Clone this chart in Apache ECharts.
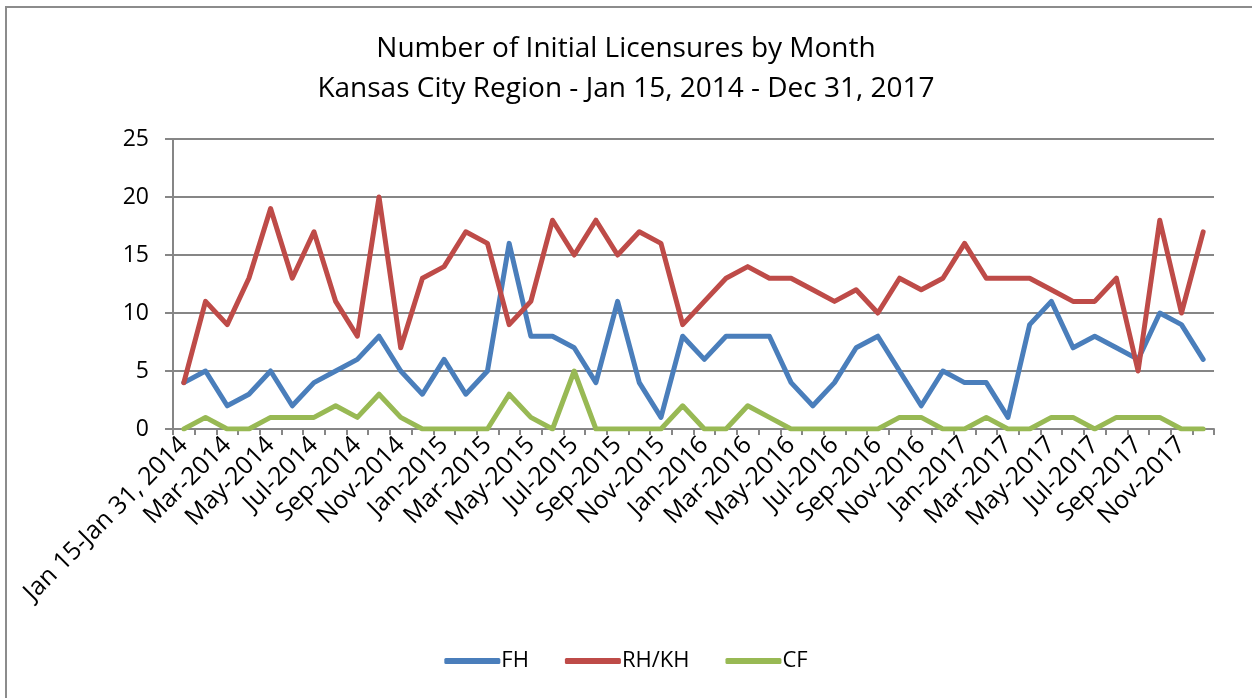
<!DOCTYPE html>
<html><head><meta charset="utf-8">
<script src="https://cdn.jsdelivr.net/npm/echarts@6/dist/echarts.min.js"></script>
<style>html,body{margin:0;padding:0;background:#fff}#c{width:1252px;height:698px}</style>
</head><body><div id="c"></div>
<script>
const categories = ["Jan 15-Jan 31, 2014","Feb-2014","Mar-2014","Apr-2014","May-2014","Jun-2014","Jul-2014","Aug-2014","Sep-2014","Oct-2014","Nov-2014","Dec-2014",
"Jan-2015","Feb-2015","Mar-2015","Apr-2015","May-2015","Jun-2015","Jul-2015","Aug-2015","Sep-2015","Oct-2015","Nov-2015","Dec-2015",
"Jan-2016","Feb-2016","Mar-2016","Apr-2016","May-2016","Jun-2016","Jul-2016","Aug-2016","Sep-2016","Oct-2016","Nov-2016","Dec-2016",
"Jan-2017","Feb-2017","Mar-2017","Apr-2017","May-2017","Jun-2017","Jul-2017","Aug-2017","Sep-2017","Oct-2017","Nov-2017","Dec-2017"];
const fh = [4,5,2,3,5,2,4,5,6,8,5,3,6,3,5,16,8,8,7,4,11,4,1,8,6,8,8,8,4,2,4,7,8,5,2,5,4,4,1,9,11,7,8,7,6,10,9,6];
const rhkh = [4,11,9,13,19,13,17,11,8,20,7,13,14,17,16,9,11,18,15,18,15,17,16,9,11,13,14,13,13,12,11,12,10,13,12,13,16,13,13,13,12,11,11,13,5,18,10,17];
const cf = [0,1,0,0,1,1,1,2,1,3,1,0,0,0,0,3,1,0,5,0,0,0,0,2,0,0,2,1,0,0,0,0,0,1,1,0,0,1,0,0,1,1,0,1,1,1,0,0];
const titleLines = ["Number of Initial Licensures by Month","Kansas City Region - Jan 15, 2014 - Dec 31, 2017"];
const yTicks = {min:0,max:25,interval:5};

const FONT = "Open Sans";
const chart = echarts.init(document.getElementById('c'));
const mk = (name, data, color) => ({
  name, type:'line', data, symbol:'none', smooth:false,
  lineStyle:{width:5, color, cap:'round', join:'round'}, itemStyle:{color}
});
chart.setOption({
  animation:false,
  textStyle:{fontFamily:FONT},
  graphic:[{type:'rect', shape:{x:6,y:7,width:1260,height:700}, style:{fill:'none', stroke:'#8c8c8c', lineWidth:2}, silent:true}],
  title:{text:titleLines.join('\n'), left:'center', top:24,
    textStyle:{fontFamily:FONT, fontSize:28, fontWeight:'normal', color:'#000', lineHeight:40}},
  legend:{bottom:21, left:'center', itemWidth:56, itemHeight:6, itemGap:36,
    icon:'roundRect',
    textStyle:{fontFamily:FONT, fontSize:22, color:'#000', padding:[0,0,0,-4]},
    data:['FH','RH/KH','CF']},
  grid:{left:173, right:38, top:139, bottom:269, containLabel:false},
  xAxis:{type:'category', data:categories, boundaryGap:true,
    axisLine:{lineStyle:{color:'#868686', width:2}},
    axisTick:{show:true, interval:0, length:6, lineStyle:{color:'#868686', width:2}},
    axisLabel:{interval:1, rotate:45, fontSize:25, color:'#000', fontFamily:FONT, margin:12}},
  yAxis:{type:'value', min:yTicks.min, max:yTicks.max, interval:yTicks.interval,
    axisLine:{show:true, lineStyle:{color:'#868686', width:2}},
    axisTick:{show:true, length:8, lineStyle:{color:'#868686', width:2}},
    splitLine:{lineStyle:{color:'#868686', width:2}},
    axisLabel:{fontSize:23, color:'#000', fontFamily:FONT, margin:24}},
  series:[mk('FH', fh, '#4A7EBB'), mk('RH/KH', rhkh, '#BE4B48'), mk('CF', cf, '#98B954')]
});
</script></body></html>
